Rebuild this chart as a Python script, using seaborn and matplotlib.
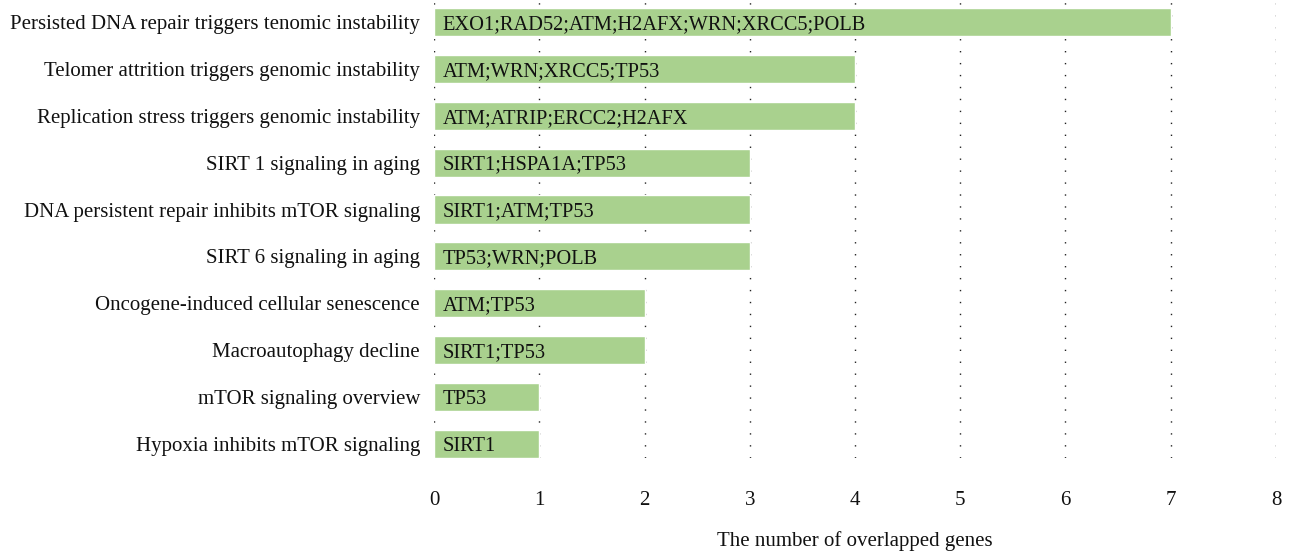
import matplotlib.pyplot as plt
import seaborn as sns
import pandas as pd

pathways = [
    "Persisted DNA repair triggers tenomic instability",
    "Telomer attrition triggers genomic instability",
    "Replication stress triggers genomic instability",
    "SIRT 1 signaling in aging",
    "DNA persistent repair inhibits mTOR signaling",
    "SIRT 6 signaling in aging",
    "Oncogene-induced cellular senescence",
    "Macroautophagy decline",
    "mTOR signaling overview",
    "Hypoxia inhibits mTOR signaling",
]
counts = [7, 4, 4, 3, 3, 3, 2, 2, 1, 1]
genes = [
    "EXO1;RAD52;ATM;H2AFX;WRN;XRCC5;POLB",
    "ATM;WRN;XRCC5;TP53",
    "ATM;ATRIP;ERCC2;H2AFX",
    "SIRT1;HSPA1A;TP53",
    "SIRT1;ATM;TP53",
    "TP53;WRN;POLB",
    "ATM;TP53",
    "SIRT1;TP53",
    "TP53",
    "SIRT1",
]

df = pd.DataFrame({"pathway": pathways, "count": counts, "genes": genes})

sns.set_style("white")
plt.rcParams['font.family'] = ['Liberation Serif', 'DejaVu Serif']

fig = plt.figure(figsize=(12.89, 5.52), dpi=100)
ax = fig.add_axes([0.3367, 0.1703, 0.6532, 0.8297])

sns.barplot(data=df, x="count", y="pathway", color="#a9d18e", width=0.6,
            saturation=1, ax=ax, zorder=2)

# gene names written inside the bars
for i, g in enumerate(genes):
    ax.text(0.08, i, g, va="center_baseline", ha="left", fontsize=14.7,
            color="#111111", zorder=3)

ax.set_xlim(0, 8)
ax.set_ylim(9.3, -0.47)
ax.set_xticks(range(0, 9))
for x in range(0, 9):
    ax.axvline(x, color="#222222", linestyle=(0, (1, 7.6)), linewidth=1, zorder=1)

sns.despine(ax=ax, left=True, bottom=True)
ax.tick_params(axis="y", length=0, pad=10, labelsize=15, labelcolor="#111111")
ax.tick_params(axis="x", length=0, pad=24, labelsize=15, labelcolor="#111111")
ax.set_ylabel("")
ax.set_xlabel("The number of overlapped genes", fontsize=15, labelpad=15,
              color="#111111")

fig.savefig("out.png", dpi=100)
